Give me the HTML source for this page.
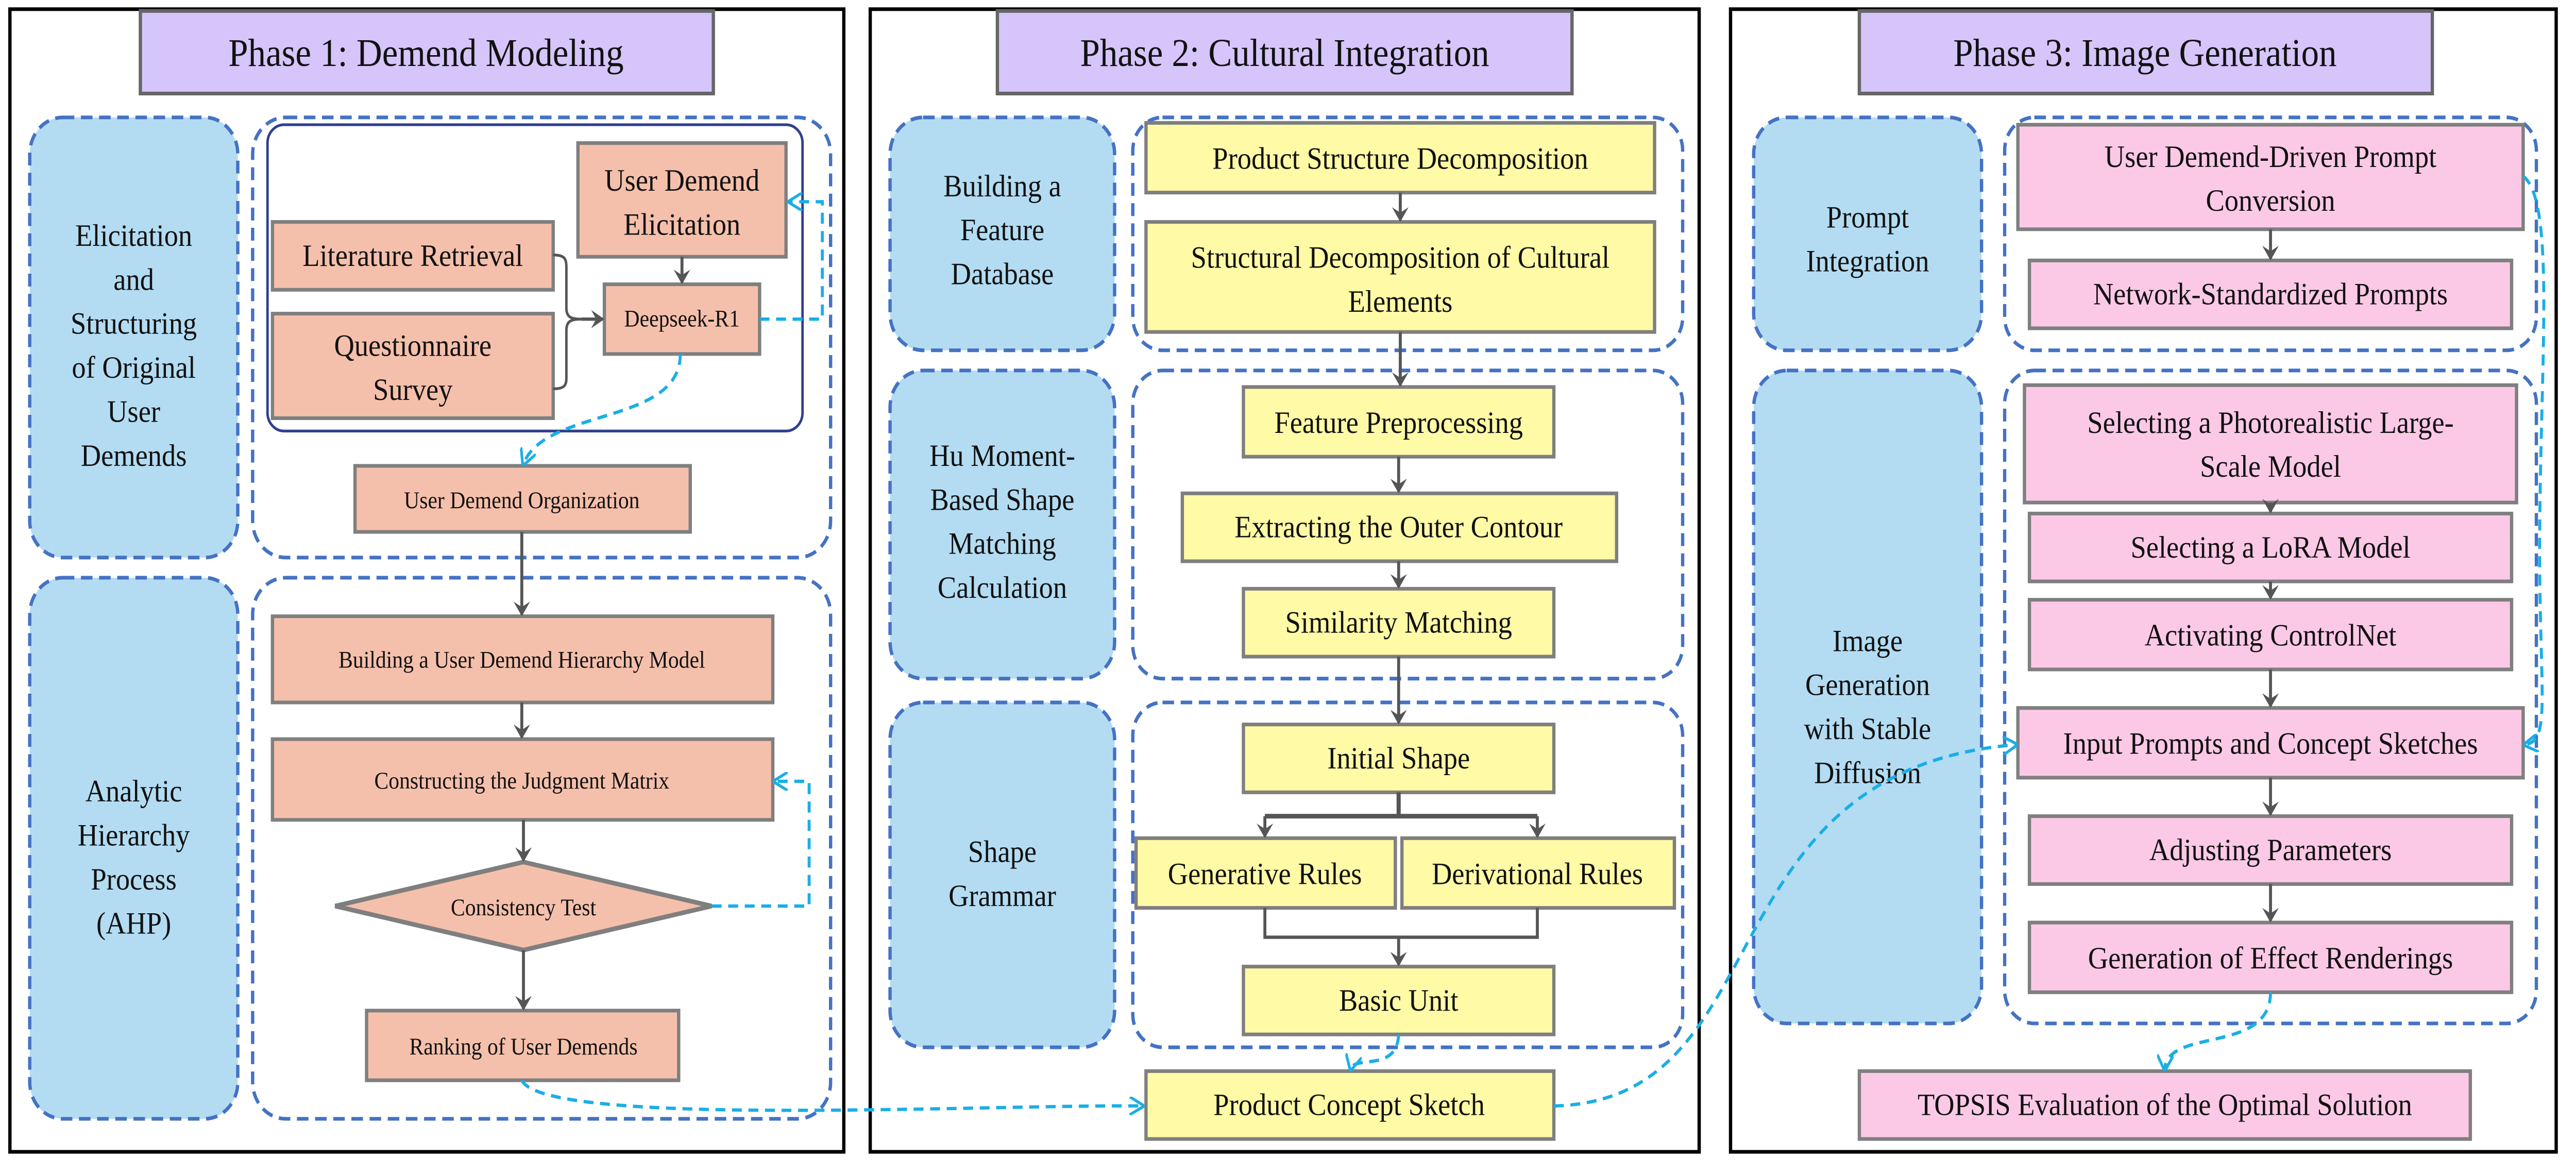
<!DOCTYPE html>
<html><head><meta charset="utf-8">
<style>
html,body{margin:0;padding:0;background:#fff;width:100%;height:100%;overflow:hidden;}
svg{display:block;position:fixed;left:0;top:0;width:100vw;height:100vh;}
svg text{font-family:"Liberation Serif","Times New Roman","DejaVu Serif",serif !important;fill:#111;}
</style></head><body>
<svg viewBox="0 0 1560 639" preserveAspectRatio="none" font-family="Liberation Serif, Times New Roman, serif" xmlns="http://www.w3.org/2000/svg">
<defs>
<marker id="ag" markerWidth="8" markerHeight="10" refX="7" refY="5" orient="auto" markerUnits="userSpaceOnUse"><path d="M0,0 L8,5 L0,10 L3,5 z" fill="#555"/></marker>
<marker id="ac" markerWidth="9" markerHeight="10" refX="8" refY="5" orient="auto" markerUnits="userSpaceOnUse"><path d="M0,0 L9,5 L0,10" fill="none" stroke="#1aaee6" stroke-width="1.6"/></marker>
</defs>
<rect width="1560" height="639" fill="#fff"/>
<g fill="none" stroke="#000" stroke-width="2">
<rect x="6" y="5" width="505" height="623"/>
<rect x="527" y="5" width="502" height="623"/>
<rect x="1048" y="5" width="500" height="623"/>
</g>
<g fill="#d5c5fa" stroke="#666" stroke-width="2">
<rect x="85" y="6" width="347" height="45"/>
<rect x="604" y="6" width="348" height="45"/>
<rect x="1126" y="6" width="347" height="45"/>
</g>
<g font-size="21.5" text-anchor="middle">
<text x="258" y="36">Phase 1: Demend Modeling</text>
<text x="778" y="36">Phase 2: Cultural Integration</text>
<text x="1299" y="36">Phase 3: Image Generation</text>
</g>
<g fill="#b3dcf2" stroke="#4472c4" stroke-width="2" stroke-dasharray="7,4">
<rect x="18" y="64" width="126" height="240" rx="20"/>
<rect x="18" y="315" width="126" height="295" rx="20"/>
<rect x="539" y="64" width="136" height="127" rx="20"/>
<rect x="539" y="202" width="136" height="168" rx="20"/>
<rect x="539" y="383" width="136" height="188" rx="20"/>
<rect x="1062" y="64" width="138" height="127" rx="20"/>
<rect x="1062" y="202" width="138" height="356" rx="20"/>
</g>
<g fill="none" stroke="#4472c4" stroke-width="2" stroke-dasharray="7,4">
<rect x="153" y="64" width="350" height="240" rx="20"/>
<rect x="153" y="315" width="350" height="295" rx="20"/>
<rect x="686" y="64" width="333" height="127" rx="18"/>
<rect x="686" y="202" width="333" height="168" rx="18"/>
<rect x="686" y="383" width="333" height="188" rx="18"/>
<rect x="1214" y="64" width="322" height="127" rx="18"/>
<rect x="1214" y="202" width="322" height="356" rx="18"/>
</g>
<rect x="162" y="68" width="324" height="167" rx="10" fill="none" stroke="#2f3f8f" stroke-width="1.5"/>
<g font-size="17" text-anchor="middle">
<text x="81" y="134">Elicitation</text><text x="81" y="158">and</text><text x="81" y="182">Structuring</text><text x="81" y="206">of Original</text><text x="81" y="230">User</text><text x="81" y="254">Demends</text>
<text x="81" y="437">Analytic</text><text x="81" y="461">Hierarchy</text><text x="81" y="485">Process</text><text x="81" y="509">(AHP)</text>
<text x="607" y="107">Building a</text><text x="607" y="131">Feature</text><text x="607" y="155">Database</text>
<text x="607" y="254">Hu Moment-</text><text x="607" y="278">Based Shape</text><text x="607" y="302">Matching</text><text x="607" y="326">Calculation</text>
<text x="607" y="470">Shape</text><text x="607" y="494">Grammar</text>
<text x="1131" y="124">Prompt</text><text x="1131" y="148">Integration</text>
<text x="1131" y="355">Image</text><text x="1131" y="379">Generation</text><text x="1131" y="403">with Stable</text><text x="1131" y="427">Diffusion</text>
</g>
<g fill="#f5c0ab" stroke="#7f7f7f" stroke-width="2">
<rect x="350" y="78" width="126" height="62"/>
<rect x="165" y="121" width="170" height="37"/>
<rect x="165" y="171" width="170" height="57"/>
<rect x="366" y="155" width="94" height="38"/>
<rect x="215" y="254" width="203" height="36"/>
<rect x="165" y="336" width="303" height="47"/>
<rect x="165" y="403" width="303" height="44"/>
<polygon points="203,494 317,470 431,494 317,518" stroke-width="2.5"/>
<rect x="222" y="551" width="189" height="38"/>
</g>
<g text-anchor="middle">
<text x="413" y="104" font-size="17">User Demend</text><text x="413" y="128" font-size="17">Elicitation</text>
<text x="250" y="145" font-size="17">Literature Retrieval</text>
<text x="250" y="194" font-size="17">Questionnaire</text><text x="250" y="218" font-size="17">Survey</text>
<text x="413" y="178" font-size="13">Deepseek-R1</text>
<text x="316" y="277" font-size="13">User Demend Organization</text>
<text x="316" y="364" font-size="13">Building a User Demend Hierarchy Model</text>
<text x="316" y="430" font-size="13">Constructing the Judgment Matrix</text>
<text x="317" y="499" font-size="13">Consistency Test</text>
<text x="317" y="575" font-size="13">Ranking of User Demends</text>
</g>
<path d="M335,139 C342,139 343,141 343,146 L343,168 C343,173 346,174 352,174 C346,174 343,175 343,180 L343,206 C343,210 342,212 335,212" fill="none" stroke="#555" stroke-width="1.5"/>
<g stroke="#555" stroke-width="1.8" fill="none" marker-end="url(#ag)">
<line x1="352" y1="174" x2="365" y2="174"/>
<line x1="413" y1="140" x2="413" y2="154"/>
<line x1="316" y1="290" x2="316" y2="335"/>
<line x1="316" y1="383" x2="316" y2="402"/>
<line x1="317" y1="447" x2="317" y2="469"/>
<line x1="317" y1="518" x2="317" y2="550"/>
</g>
<g fill="#fffaa6" stroke="#7f7f7f" stroke-width="2">
<rect x="694" y="67" width="308" height="38"/>
<rect x="694" y="121" width="308" height="60"/>
<rect x="753" y="211" width="188" height="38"/>
<rect x="716" y="269" width="263" height="37"/>
<rect x="753" y="321" width="188" height="37"/>
<rect x="753" y="395" width="188" height="37"/>
<rect x="688" y="457" width="157" height="38"/>
<rect x="849" y="457" width="165" height="38"/>
<rect x="753" y="527" width="188" height="37"/>
<rect x="694" y="584" width="247" height="37"/>
</g>
<g font-size="17" text-anchor="middle">
<text x="848" y="92">Product Structure Decomposition</text>
<text x="848" y="146">Structural Decomposition of Cultural</text><text x="848" y="170">Elements</text>
<text x="847" y="236">Feature Preprocessing</text>
<text x="847" y="293">Extracting the Outer Contour</text>
<text x="847" y="345">Similarity Matching</text>
<text x="847" y="419">Initial Shape</text>
<text x="766" y="482">Generative Rules</text>
<text x="931" y="482">Derivational Rules</text>
<text x="847" y="551">Basic Unit</text>
<text x="817" y="608">Product Concept Sketch</text>
</g>
<g stroke="#555" stroke-width="1.8" fill="none">
<line x1="848" y1="105" x2="848" y2="120" marker-end="url(#ag)"/>
<line x1="848" y1="181" x2="848" y2="210" marker-end="url(#ag)"/>
<line x1="847" y1="249" x2="847" y2="268" marker-end="url(#ag)"/>
<line x1="847" y1="306" x2="847" y2="320" marker-end="url(#ag)"/>
<line x1="847" y1="358" x2="847" y2="394" marker-end="url(#ag)"/>
<path d="M847,432 L847,445 M766,445 L931,445" stroke-width="2.5"/>
<line x1="766" y1="445" x2="766" y2="456" marker-end="url(#ag)"/>
<line x1="931" y1="445" x2="931" y2="456" marker-end="url(#ag)"/>
<path d="M766,495 L766,511 L931,511 L931,495"/>
<line x1="847" y1="511" x2="847" y2="526" marker-end="url(#ag)"/>
</g>
<g fill="#fbc9e6" stroke="#7f7f7f" stroke-width="2">
<rect x="1222" y="68" width="306" height="57"/>
<rect x="1229" y="142" width="292" height="37"/>
<rect x="1226" y="210" width="298" height="64"/>
<rect x="1229" y="280" width="292" height="37"/>
<rect x="1229" y="327" width="292" height="38"/>
<rect x="1222" y="386" width="306" height="38"/>
<rect x="1229" y="445" width="292" height="37"/>
<rect x="1229" y="503" width="292" height="38"/>
<rect x="1126" y="584" width="370" height="37"/>
</g>
<g font-size="17" text-anchor="middle">
<text x="1375" y="91">User Demend-Driven Prompt</text><text x="1375" y="115">Conversion</text>
<text x="1375" y="166">Network-Standardized Prompts</text>
<text x="1375" y="236">Selecting a Photorealistic Large-</text><text x="1375" y="260">Scale Model</text>
<text x="1375" y="304">Selecting a LoRA Model</text>
<text x="1375" y="352">Activating ControlNet</text>
<text x="1375" y="411">Input Prompts and Concept Sketches</text>
<text x="1375" y="469">Adjusting Parameters</text>
<text x="1375" y="528">Generation of Effect Renderings</text>
<text x="1311" y="608">TOPSIS Evaluation of the Optimal Solution</text>
</g>
<g stroke="#555" stroke-width="1.8" fill="none" marker-end="url(#ag)">
<line x1="1375" y1="125" x2="1375" y2="141"/>
<line x1="1375" y1="274" x2="1375" y2="279"/>
<line x1="1375" y1="317" x2="1375" y2="326"/>
<line x1="1375" y1="365" x2="1375" y2="385"/>
<line x1="1375" y1="424" x2="1375" y2="444"/>
<line x1="1375" y1="482" x2="1375" y2="502"/>
</g>
<g stroke="#1aaee6" stroke-width="1.8" fill="none" stroke-dasharray="6,4" marker-end="url(#ac)">
<path d="M460,174 L498,174 L498,110 L478,110"/>
<path d="M412,193 C412,232 330,222 317,253"/>
<path d="M431,494 L490,494 L490,426 L469,426"/>
<path d="M316,589 C330,615 600,602 692,603"/>
<path d="M847,564 C846,585 820,575 818,583"/>
<path d="M941,603 C1080,600 1030,420 1221,406"/>
<path d="M1528,96 C1548,110 1538,200 1538,300 C1538,380 1545,404 1529,406"/>
<path d="M1375,541 C1375,575 1312,560 1311,583"/>
</g>
</svg>
</body></html>
